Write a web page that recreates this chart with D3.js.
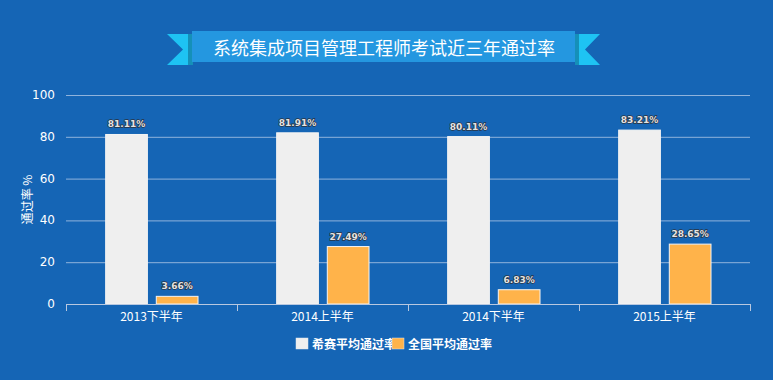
<!DOCTYPE html>
<html><head><meta charset="utf-8">
<script src="https://cdn.jsdelivr.net/npm/d3@7/dist/d3.min.js"></script>
<style>
html,body{margin:0;padding:0;background:#1565b5;}
svg{display:block;font-family:"Noto Sans CJK SC","Microsoft YaHei",sans-serif;}
</style></head>
<body>
<svg id="chart" width="773" height="380"></svg>
<script>
const title = "系统集成项目管理工程师考试近三年通过率";
const categories = ["2013下半年", "2014上半年", "2014下半年", "2015上半年"];
const seriesNames = ["希赛平均通过率", "全国平均通过率"];
const xisaiRates = [81.11, 81.91, 80.11, 83.21];
const nationalRates = [3.66, 27.49, 6.83, 28.65];
const yTicks = [0, 20, 40, 60, 80, 100];
const yTitle = "通过率 %";

const colors = ["#efefef", "#ffb34a"];
const svg = d3.select("#chart");
const W = 773, H = 380;
const m = {l: 66, r: 23, t: 95, b: 76};
const x0 = d3.scaleBand().domain(categories).range([m.l, W - m.r]).paddingInner(0).paddingOuter(0);
const bw = x0.bandwidth();
const x1 = d3.scaleBand().domain(seriesNames).range([bw * 0.232, bw * 0.772]).paddingInner(0.176).paddingOuter(0);
const y = d3.scaleLinear().domain([0, 100]).range([H - m.b, m.t]);

// banner
const bt = svg.append("g");
bt.append("polygon").attr("points", "167,34 191,34 191,65 167,65 183,49.5").attr("fill", "#1ec3f3");
bt.append("polygon").attr("points", "600,34 576,34 576,65 600,65 585,49.5").attr("fill", "#1ec3f3");
bt.append("rect").attr("x", 188).attr("y", 34).attr("width", 5).attr("height", 31).attr("fill", "#1590b8");
bt.append("rect").attr("x", 575).attr("y", 34).attr("width", 4).attr("height", 31).attr("fill", "#1590b8");
bt.append("rect").attr("x", 192).attr("y", 31).attr("width", 383).attr("height", 31).attr("fill", "#2497e0");
bt.append("text").attr("x", 384).attr("y", 47).attr("text-anchor", "middle").attr("dominant-baseline", "central")
  .attr("fill", "#fff").attr("font-size", 18).text(title);

// grid
svg.append("g").selectAll("line").data(yTicks.filter(d => d > 0)).join("line")
  .attr("x1", m.l).attr("x2", W - m.r).attr("y1", d => y(d) + 0.5).attr("y2", d => y(d) + 0.5)
  .attr("stroke", "#8fb3dc").attr("stroke-width", 1);

// y labels
svg.append("g").selectAll("text").data(yTicks).join("text")
  .attr("x", 55).attr("y", d => y(d)).attr("text-anchor", "end").attr("dominant-baseline", "central")
  .attr("fill", "#fff").attr("font-size", 12).attr("font-family", "Verdana,DejaVu Sans,sans-serif").text(d => d);

svg.append("text").attr("transform", `translate(26,${(m.t + H - m.b) / 2}) rotate(-90)`)
  .attr("text-anchor", "middle").attr("dominant-baseline", "central").attr("fill", "#fff").attr("font-size", 12).text(yTitle);

// bars
const g = svg.append("g");
const rows = categories.map((c, i) => ({c, vals: [xisaiRates[i], nationalRates[i]]}));
const grp = g.selectAll("g").data(rows).join("g").attr("transform", d => `translate(${x0(d.c)},0)`);
grp.selectAll("rect").data(d => d.vals.map((v, j) => ({v, j}))).join("rect")
  .attr("x", d => x1(seriesNames[d.j])).attr("width", x1.bandwidth())
  .attr("y", d => y(d.v)).attr("height", d => y(0) - y(d.v))
  .attr("fill", d => colors[d.j]).attr("stroke", "#f4f4f4").attr("stroke-width", 1);
grp.selectAll("text").data(d => d.vals.map((v, j) => ({v, j}))).join("text")
  .attr("x", d => x1(seriesNames[d.j]) + x1.bandwidth() / 2).attr("y", d => y(d.v) - 10)
  .attr("text-anchor", "middle").attr("dominant-baseline", "central")
  .attr("font-size", 9).attr("font-weight", "bold").attr("font-family", "Verdana,DejaVu Sans,sans-serif")
  .attr("fill", "#e4e4e4").attr("stroke", "#2a3340").attr("stroke-width", 1.4).attr("paint-order", "stroke")
  .text(d => d.v.toFixed(2) + "%");

// x axis
const xa = svg.append("g");
xa.append("line").attr("x1", m.l).attr("x2", W - m.r).attr("y1", y(0) + 0.5).attr("y2", y(0) + 0.5).attr("stroke", "#b8c8e0");
const bounds = categories.map(c => x0(c)).concat([W - m.r]);
xa.selectAll("line.t").data(bounds).join("line").attr("class", "t")
  .attr("x1", d => d + 0.5).attr("x2", d => d + 0.5).attr("y1", y(0)).attr("y2", y(0) + 7).attr("stroke", "#b8c8e0");
xa.selectAll("text").data(categories).join("text")
  .attr("x", c => x0(c) + x0.bandwidth() / 2).attr("y", y(0) + 11).attr("text-anchor", "middle")
  .attr("dominant-baseline", "central").attr("fill", "#fff").attr("font-size", 12).text(c => c);

// legend
const lg = svg.append("g");
const lx = [296, 392];
seriesNames.forEach((n, i) => {
  lg.append("rect").attr("x", lx[i]).attr("y", 338).attr("width", 12).attr("height", 11).attr("fill", colors[i]).attr("stroke", "#dfe6ef").attr("stroke-width", 0.5);
  lg.append("text").attr("x", lx[i] + 16).attr("y", 343.5).attr("dominant-baseline", "central")
    .attr("fill", "#fff").attr("font-size", 12).attr("font-weight", "bold").text(n);
});
</script>
</body></html>
